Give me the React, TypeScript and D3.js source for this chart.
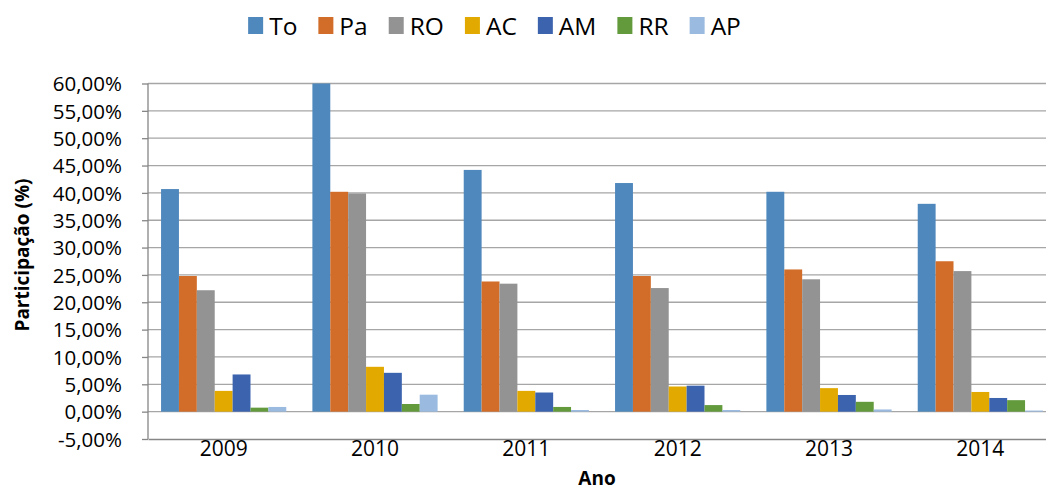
import * as d3 from 'd3';
import {useEffect, useRef} from "react";
import * as React from "react";

const years = ["2009", "2010", "2011", "2012", "2013", "2014"];
const series = ["To", "Pa", "RO", "AC", "AM", "RR", "AP"];
const colors = ["#4e88bc", "#d26d29", "#939393", "#e2aa00", "#3c64ae", "#629a3c", "#9abae0"];

// participação (%) por ano, uma lista por estado
const To = [40.7, 60.0, 44.2, 41.8, 40.2, 38.0];
const Pa = [24.8, 40.2, 23.8, 24.8, 26.0, 27.5];
const RO = [22.2, 39.9, 23.4, 22.6, 24.2, 25.7];
const AC = [3.8, 8.2, 3.8, 4.6, 4.3, 3.6];
const AM = [6.8, 7.1, 3.5, 4.75, 3.05, 2.5];
const RR = [0.73, 1.4, 0.86, 1.2, 1.8, 2.1];
const AP = [0.86, 3.1, 0.3, 0.3, 0.4, 0.2];

const yTicks = [-5, 0, 5, 10, 15, 20, 25, 30, 35, 40, 45, 50, 55, 60];

export default function App() {
    const svgRef = useRef<SVGSVGElement | null>(null);

    useEffect(() => {
        if (!svgRef.current) return;
        const width = 1046;
        const height = 490;
        const margin = { top: 83.5, right: -10, bottom: 51, left: 148 };
        const font = "'Open Sans', sans-serif";

        const values = [To, Pa, RO, AC, AM, RR, AP];
        const data = years.map((y, i) => ({
            year: y,
            items: series.map((s, j) => ({ key: s, value: values[j][i], color: colors[j] })),
        }));

        const x0 = d3.scaleBand().domain(years)
            .range([margin.left, width - margin.right]).padding(0);
        const x1 = d3.scaleBand().domain(series)
            .range([0, x0.bandwidth()]).paddingInner(0).paddingOuter(0.73);
        const y = d3.scaleLinear().domain([-5, 60])
            .range([height - margin.bottom, margin.top]);

        const svg = d3.select(svgRef.current)
            .attr("width", width)
            .attr("height", height)
            .style("background", "white");
        svg.selectAll("*").remove();

        // gridlines
        svg.append("g")
            .selectAll("line")
            .data(yTicks.filter(t => t > -5))
            .enter().append("line")
            .attr("x1", margin.left)
            .attr("x2", width - margin.right)
            .attr("y1", d => y(d))
            .attr("y2", d => y(d))
            .attr("stroke", "#a6a6a6")
            .attr("stroke-width", 1.3);

        // bars
        const groups = svg.append("g")
            .selectAll("g")
            .data(data)
            .enter().append("g")
            .attr("transform", d => `translate(${x0(d.year)},0)`);
        groups.selectAll("rect")
            .data(d => d.items)
            .enter().append("rect")
            .attr("x", d => x1(d.key)!)
            .attr("width", x1.bandwidth())
            .attr("y", d => y(d.value))
            .attr("height", d => y(0) - y(d.value))
            .attr("fill", d => d.color);

        // y axis
        const yAxis = svg.append("g")
            .attr("transform", `translate(${margin.left},0)`)
            .call(d3.axisLeft(y).tickValues(yTicks).tickSize(6).tickPadding(20)
                .tickFormat(d => (+d).toFixed(2).replace(".", ",") + "%"));
        yAxis.select(".domain").attr("stroke", "#868686").attr("stroke-width", 1.3)
            .attr("d", `M0,${y(60)}V${y(-5)}`);
        yAxis.selectAll(".tick line").attr("stroke", "#868686").attr("stroke-width", 1.3);
        yAxis.selectAll("text")
            .attr("font-family", font)
            .attr("font-size", 20.5)
            .attr("fill", "#000")
            .attr("dy", "0.35em");

        // x axis
        const xAxis = svg.append("g")
            .attr("transform", `translate(0,${y(-5)})`)
            .call(d3.axisBottom(x0).tickSize(0).tickPadding(2));
        xAxis.select(".domain").attr("stroke", "#868686").attr("stroke-width", 1.3);
        xAxis.selectAll("text")
            .attr("font-family", font)
            .attr("font-size", 21)
            .attr("fill", "#000")
            .attr("dy", "0.71em");

        // axis titles
        svg.append("text")
            .attr("x", (margin.left + width - margin.right) / 2 - 5)
            .attr("y", 485)
            .attr("text-anchor", "middle")
            .attr("font-family", font)
            .attr("font-weight", "bold")
            .attr("font-size", 19)
            .text("Ano");
        svg.append("text")
            .attr("transform", `translate(29,${255}) rotate(-90)`)
            .attr("text-anchor", "middle")
            .attr("font-family", font)
            .attr("font-weight", "bold")
            .attr("font-size", 19)
            .text("Participação (%)");

        // legend
        const legend = svg.append("g");
        let cx = 0;
        series.forEach((s, i) => {
            const item = legend.append("g").attr("transform", `translate(${cx},0)`);
            item.append("rect")
                .attr("x", 0).attr("y", 17).attr("width", 15).attr("height", 17)
                .attr("fill", colors[i]);
            const t = item.append("text")
                .attr("x", 21).attr("y", 34.5)
                .attr("font-family", font)
                .attr("font-size", 24.5)
                .attr("fill", "#000")
                .text(s);
            const w = (t.node() as SVGTextElement).getComputedTextLength();
            cx += 21 + w + 21;
        });
        const total = cx - 21;
        legend.attr("transform", `translate(${494.5 - total / 2},0)`);
    }, []);

    return (
        <svg ref={svgRef} style={{ position: "absolute", left: 0, top: 0, display: "block" }}></svg>
    );
}
